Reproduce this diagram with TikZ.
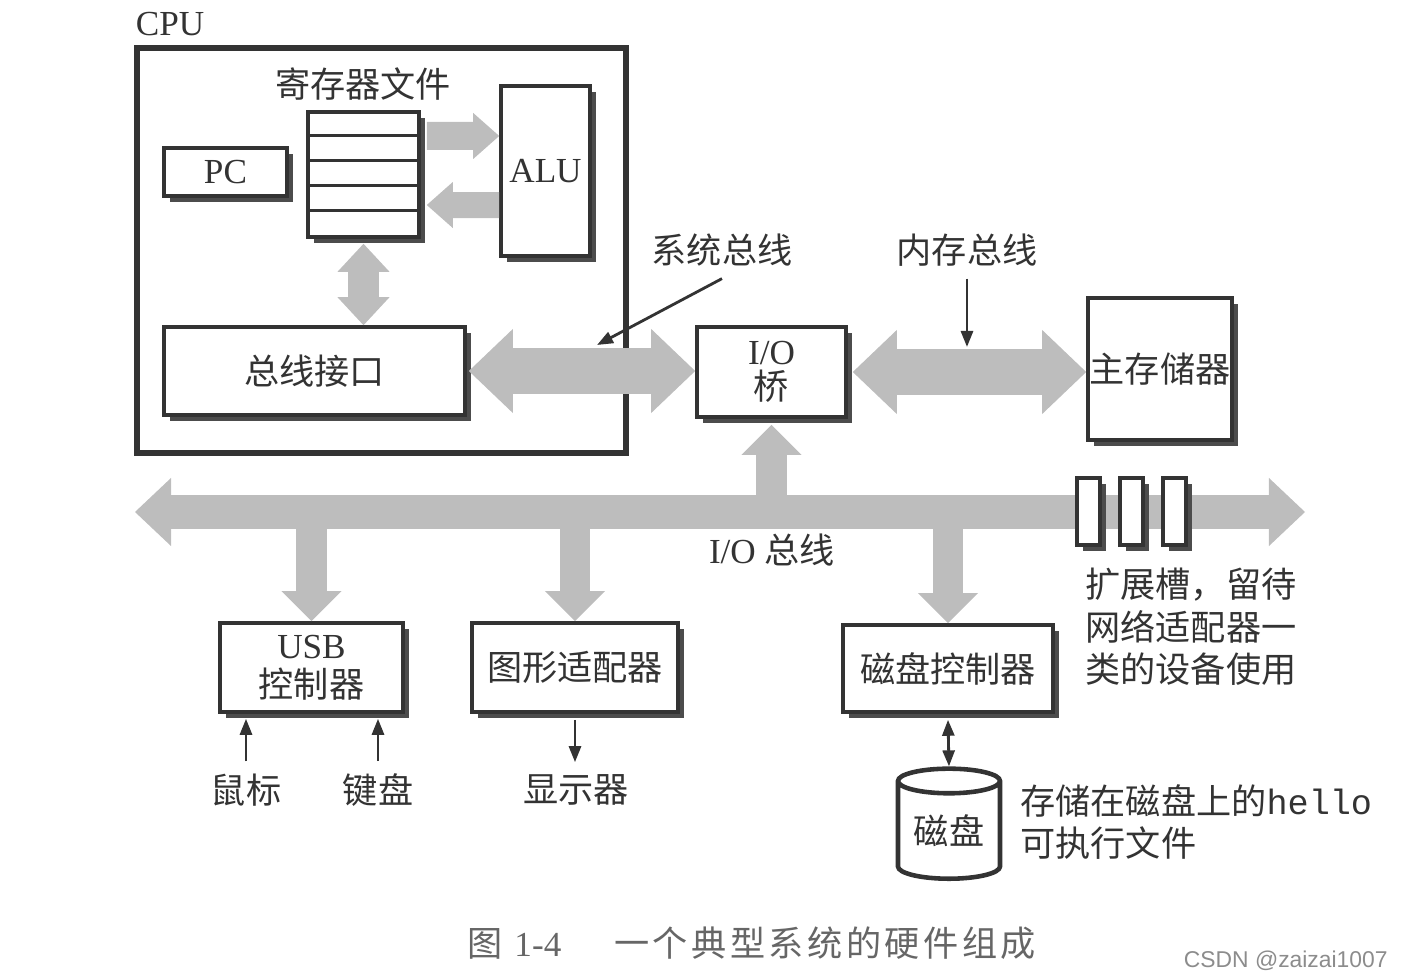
\documentclass[tikz,border=0pt]{standalone}
\usepackage{fontspec}
\setmainfont{Liberation Serif}
\setmonofont{Liberation Mono}
\newfontfamily\cjk{Noto Sans CJK SC}
\newfontfamily\capfont[LetterSpace=10]{Noto Sans CJK SC}
\newfontfamily\wmfont{Liberation Sans}
\usetikzlibrary{arrows.meta,shadows,shapes.geometric,calc}
\definecolor{busgray}{gray}{0.74}
\definecolor{ink}{gray}{0.2}

\begin{document}
\begin{tikzpicture}[x=0.01cm,y=-0.01cm,
  every node/.style={text=ink, font=\fontsize{10}{12}\selectfont},
  zh/.style={font=\cjk\fontsize{10}{12}\selectfont},
  box/.style={draw=ink, line width=1pt, fill=white, inner sep=0pt,
    drop shadow={shadow xshift=0.06cm, shadow yshift=-0.06cm, fill=black!70, opacity=1}},
  cpuframe/.style={draw=ink, line width=1.6pt},
  fat/.style={draw=busgray, line width=#1},
  ptr/.style={draw=ink, line width=0.8pt},
  tip/.style={-{Triangle[length=0.16cm,width=0.12cm]}},
]
\useasboundingbox (0,0) rectangle (1414,976);

\node (cpulbl) at (170,24) {CPU};
\node[cpuframe, minimum width=4.89cm, minimum height=4.05cm] (cpu) at (381.5,250.5) {};

\node[zh] (reglbl) at (363,84) {寄存器文件};
\node[box, minimum width=1.11cm, minimum height=1.25cm] (reg) at (363.5,174.5) {};
\foreach \k in {1,...,4}
  \draw[ptr] ([yshift=-\k*0.25cm]reg.north west) -- ([yshift=-\k*0.25cm]reg.north east);
\node[box, minimum width=1.23cm, minimum height=0.48cm] (pc) at (225.5,172) {PC};
\node[box, minimum width=0.89cm, minimum height=1.70cm] (alu) at (545.5,171) {ALU};
\node[box, minimum width=3.01cm, minimum height=0.88cm, zh] (ifc) at (314.5,371) {总线接口};

\node[box, minimum width=1.49cm, minimum height=0.90cm, align=center] (iob) at (771.5,372) {I/O\\[-2pt]{\cjk 桥}};
\node[box, minimum width=1.44cm, minimum height=1.42cm, zh] (mem) at (1160,369) {主存储器};

\node[box, minimum width=1.83cm, minimum height=0.89cm, align=center] (usb) at (311.5,667.5) {USB\\[-1pt]{\cjk 控制器}};
\node[box, minimum width=2.06cm, minimum height=0.89cm, zh] (gfx) at (575,667.5) {图形适配器};
\node[box, minimum width=2.10cm, minimum height=0.87cm, zh] (dsk) at (948,668.5) {磁盘控制器};

\coordinate (busL) at (135,512);
\coordinate (busR) at (1305,512);

\draw[fat=0.28cm, -{Triangle[length=0.26cm,width=0.46cm,line width=0pt]}] ([xshift=0.06cm,yshift=0.385cm]reg.east) -- ([yshift=0.35cm]alu.west);
\draw[fat=0.26cm, -{Triangle[length=0.26cm,width=0.46cm,line width=0pt]}] ([yshift=-0.34cm]alu.west) -- ([xshift=0.06cm,yshift=-0.305cm]reg.east);
\draw[fat=0.30cm, {Triangle[length=0.28cm,width=0.52cm,line width=0pt]}-{Triangle[length=0.28cm,width=0.52cm,line width=0pt]}] ([yshift=-0.05cm]reg.south) -- (reg.south |- ifc.north);
\draw[fat=0.46cm, {Triangle[length=0.44cm,width=0.84cm,line width=0pt]}-{Triangle[length=0.44cm,width=0.84cm,line width=0pt]}] ([xshift=0.02cm]ifc.east) -- (ifc.east -| iob.west);
\draw[fat=0.46cm, {Triangle[length=0.44cm,width=0.84cm,line width=0pt]}-{Triangle[length=0.44cm,width=0.84cm,line width=0pt]}] ([xshift=0.05cm]iob.east) -- (iob.east -| mem.west);

\draw[fat=0.34cm, {Triangle[length=0.36cm,width=0.68cm,line width=0pt]}-{Triangle[length=0.36cm,width=0.68cm,line width=0pt]}] (busL) -- (busR);
\draw[fat=0.30cm, -{Triangle[length=0.30cm,width=0.60cm,line width=0pt]}] (iob.south |- busL) -- ([yshift=-0.06cm]iob.south);
\foreach \n in {usb,gfx,dsk}
  \draw[fat=0.30cm, -{Triangle[length=0.30cm,width=0.60cm,line width=0pt]}] (\n.north |- busL) -- (\n.north);

\foreach \x/\n in {1088.5/1,1131.5/2,1174.5/3}
  \node[box, minimum width=0.23cm, minimum height=0.67cm] (slot\n) at (\x,511.5) {};

\node[zh] (sbl) at (722,250) {系统总线};
\node[zh] (mbl) at (967,250) {内存总线};
\coordinate (sbpt) at (597,345);
\coordinate (mbpt) at (967,347);
\draw[ptr, tip] (sbl.south) -- (sbpt);
\draw[ptr, tip] (mbl.south) -- (mbpt);

\node (iobl) at (772,550) {I/O {\cjk 总线}};
\node[zh, anchor=north west, align=left] (slotlbl) at (1073,556) {扩展槽，留待\\网络适配器一\\类的设备使用};

\node[zh] (mouse) at (246,790) {鼠标};
\node[zh] (kbd) at (378,790) {键盘};
\node[zh] (disp) at (576,790) {显示器};
\draw[ptr, tip] (mouse.north) -- ($(mouse.north |- usb.south)+(0,5)$);
\draw[ptr, tip] (kbd.north) -- ($(kbd.north |- usb.south)+(0,5)$);
\draw[ptr, tip] ($(gfx.south)+(0,6)$) -- (gfx.south |- disp.north);

\node[cylinder, shape border rotate=90, draw=ink, line width=1.3pt, fill=white, aspect=0.35,
  minimum width=1.02cm, minimum height=1.10cm, inner sep=0pt, zh] (disk) at (949,831) {磁盘};
\draw[ptr, {Triangle[length=0.16cm,width=0.12cm]}-{Triangle[length=0.16cm,width=0.12cm]}] ($(dsk.south)+(0,6)$) -- (disk.north);
\node[anchor=west, align=left] (hellolbl) at (1008,822) {{\cjk 存储在磁盘上的}\texttt{hello}\\{\cjk 可执行文件}};

\node[font=\capfont\fontsize{10}{12}\selectfont, text=black!60] (cap) at (752,943) {图 {\rmfamily 1-4}\quad\enspace 一个典型系统的硬件组成};
\node[font=\wmfont\fontsize{6.5}{8}\selectfont, text=black!45, anchor=east] (wm) at (1400,961) {CSDN @zaizai1007};
\end{tikzpicture}
\end{document}
